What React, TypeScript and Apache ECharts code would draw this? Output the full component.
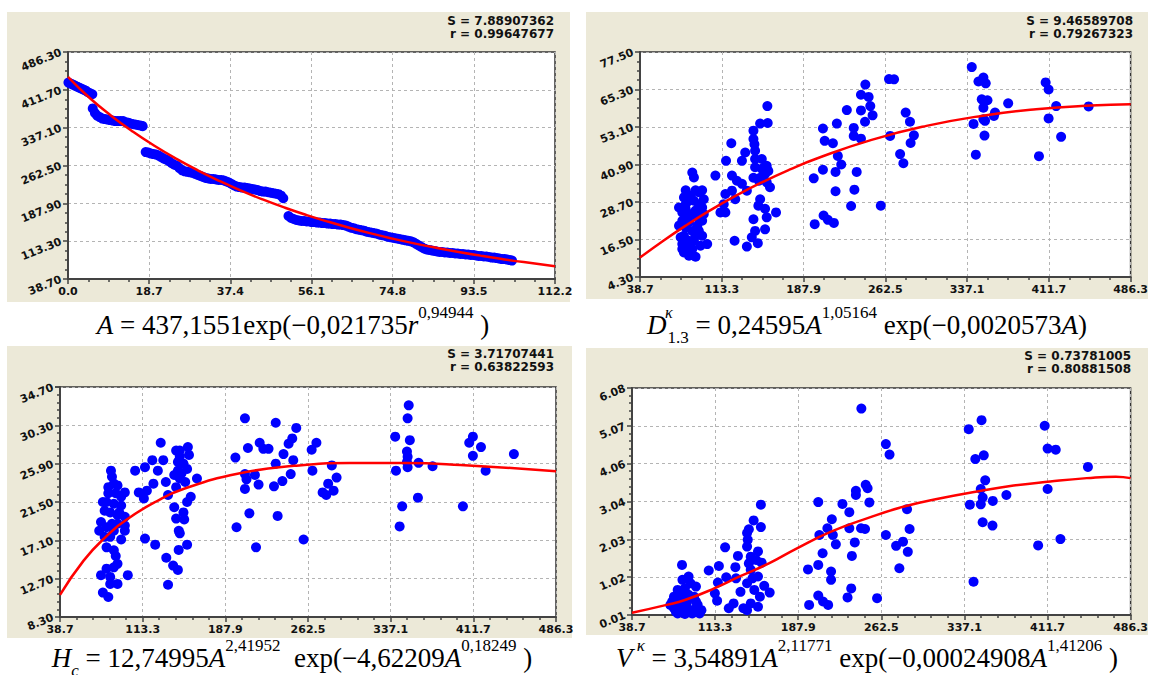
import React, { useEffect, useRef } from "react";
import * as echarts from "echarts";

// ---------- tick labels ----------
const R_TICKS = ["0.0", "18.7", "37.4", "56.1", "74.8", "93.5", "112.2"];
const A_Y_TICKS = ["38.70", "113.30", "187.90", "262.50", "337.10", "411.70", "486.30"];
const A_X_TICKS = ["38.7", "113.3", "187.9", "262.5", "337.1", "411.7", "486.3"];
const D_TICKS = ["4.30", "16.50", "28.70", "40.90", "53.10", "65.30", "77.50"];
const H_TICKS = ["8.30", "12.70", "17.10", "21.50", "25.90", "30.30", "34.70"];
const V_TICKS = ["0.01", "1.02", "2.03", "3.04", "4.06", "5.07", "6.08"];

// ---------- stats ----------
const STATS = [
  ["S = 7.88907362", "r = 0.99647677"],
  ["S = 9.46589708", "r = 0.79267323"],
  ["S = 3.71707441", "r = 0.63822593"],
  ["S = 0.73781005", "r = 0.80881508"],
];

// ---------- panel 1: A vs r ----------
const A_R_POINTS = [
  [0.1, 426], [0.6, 424], [1.1, 422], [1.6, 420], [2.1, 418], [2.6, 416], [3.1, 414], [3.6, 412], [4.1, 410], [4.6, 407], [5.1, 405], [5.6, 403],
  [5.7, 375], [6.2, 366], [6.7, 361], [7.3, 358], [7.9, 355], [8.5, 354], [9.1, 353], [9.7, 352], [10.3, 351], [10.9, 350], [11.5, 350], [12.1, 350],
  [12.7, 350], [13.3, 348], [13.9, 347], [14.5, 345], [15.1, 344], [15.7, 343], [16.3, 342], [16.9, 341], [17.2, 340],
  [17.9, 289], [18.5, 288], [19.1, 286], [19.7, 285], [20.3, 284], [20.9, 282], [21.5, 279], [22.1, 276], [22.7, 274], [23.3, 271], [23.9, 267],
  [24.5, 264], [25.1, 262], [25.7, 257], [26.3, 253], [26.9, 251], [27.5, 250], [28.1, 249], [28.7, 248], [29.3, 246], [29.9, 244], [30.5, 242],
  [31.1, 240], [31.7, 238], [32.3, 237], [32.9, 236], [33.5, 236], [34.1, 235], [34.7, 234], [35.3, 234], [35.9, 233], [36.5, 231], [37.1, 229],
  [37.7, 226], [38.3, 223], [38.9, 221], [39.5, 220], [40.1, 219], [40.7, 219], [41.3, 218], [41.9, 217], [42.5, 216], [43.1, 215], [43.7, 214],
  [44.3, 212], [44.9, 211], [45.5, 211], [46.1, 210], [46.7, 209], [47.3, 208], [47.9, 207], [48.5, 206], [49.1, 203], [49.6, 198],
  [50.8, 163], [51.4, 159], [52.0, 157], [52.6, 155], [53.2, 154], [53.8, 153], [54.4, 153], [55.0, 152], [55.6, 152], [56.2, 151], [56.8, 151],
  [57.4, 150], [58.0, 150], [58.6, 149], [59.2, 149], [59.8, 148], [60.4, 148], [61.0, 147], [61.6, 147], [62.2, 146], [62.8, 146], [63.4, 145],
  [64.0, 144], [64.6, 142], [65.2, 140], [65.8, 139], [66.4, 137], [67.0, 136], [67.6, 135], [68.2, 134], [68.8, 132], [69.4, 131], [70.0, 130],
  [70.6, 129], [71.2, 128], [71.8, 126], [72.4, 125], [73.0, 124], [73.6, 122], [74.2, 121], [74.8, 120], [75.4, 119], [76.0, 118], [76.6, 117],
  [77.2, 116], [77.8, 115], [78.4, 114], [79.0, 113], [79.6, 111], [80.2, 108], [80.8, 105], [81.4, 102], [82.0, 99], [82.6, 97], [83.2, 96],
  [83.8, 95], [84.4, 94], [85.0, 93], [85.6, 92], [86.2, 92], [86.8, 91], [87.4, 91], [88.0, 90], [88.6, 90], [89.2, 89], [89.8, 89], [90.4, 88],
  [91.0, 88], [91.6, 87], [92.2, 87], [92.8, 86], [93.4, 86], [94.0, 85], [94.6, 84], [95.2, 84], [95.8, 83], [96.4, 83], [97.0, 82], [97.6, 81],
  [98.2, 81], [98.8, 80], [99.4, 79], [100.0, 78], [100.6, 78], [101.2, 77], [101.8, 76], [102.3, 75],
];
const A_R_CURVE = [
  [0, 437.2], [5, 395.5], [10, 360.3], [15, 329.0], [20, 300.9], [25, 275.5], [30, 252.5], [35, 231.6], [40, 212.5], [45, 195.1], [50, 179.2],
  [55, 164.7], [60, 151.5], [65, 139.3], [70, 128.1], [75, 117.9], [80, 108.5], [85, 99.9], [90, 92.0], [95, 84.8], [100, 78.1], [105, 72.0], [112.2, 64.0],
];

// ---------- panel 2: D vs A ----------
const D_POINTS = [
  [86.4, 38.3], [87.9, 36.7], [107.5, 37.3], [89.4, 32.5], [95.4, 32.5], [80.4, 28.0], [83.4, 29.1], [87.9, 29.1], [92.4, 28.0], [95.4, 26.9],
  [77.3, 25.3], [84.9, 24.7], [90.9, 23.7], [95.4, 22.6], [74.3, 21.0], [80.4, 20.4], [86.4, 19.3], [92.4, 19.3], [78.8, 17.7], [83.4, 16.1],
  [87.9, 16.1], [77.3, 15.0], [100.0, 15.0], [78.8, 12.3], [83.4, 11.2], [89.4, 10.9], [77.3, 22.6], [81.9, 23.7], [84.9, 30.8], [92.4, 31.9],
  [80.4, 26.4], [89.4, 25.9], [83.4, 22.1], [89.4, 17.7], [93.9, 14.5], [86.4, 13.4], [77.3, 13.4], [74.3, 26.9], [96.9, 29.6], [80.4, 32.5],
  [95.4, 17.7], [84.9, 15.0], [81.9, 13.9], [75.8, 17.2], [90.9, 20.9], [78.8, 30.2], [96.9, 24.8],
  [122.0, 47.8], [117.2, 42.1], [122.6, 37.3], [127.1, 35.6], [116.6, 31.3], [122.6, 32.4], [125.6, 29.6], [115.1, 28.0], [112.1, 25.3],
  [116.6, 25.3], [131.7, 34.6], [136.2, 32.4], [131.7, 42.1], [134.7, 44.8], [142.2, 51.9], [148.3, 54.2], [155.2, 54.4], [154.9, 59.9],
  [142.2, 49.2], [143.1, 47.5], [143.7, 45.4], [143.7, 42.7], [149.8, 42.7], [154.3, 40.5], [142.2, 36.6], [148.3, 36.6], [152.8, 37.8],
  [155.8, 38.8], [147.2, 35.6], [157.3, 33.5], [148.3, 29.6], [146.7, 27.5], [152.8, 26.5], [154.3, 23.7], [162.8, 25.3], [142.2, 23.1],
  [143.7, 19.3], [152.8, 19.8], [140.7, 17.2], [146.2, 15.3], [125.0, 16.1], [136.2, 14.2], [149.8, 39.5], [143.7, 40.0], [154.3, 35.1],
  [205.6, 52.6], [207.2, 48.6], [214.7, 47.8], [218.3, 54.2], [227.4, 58.6], [233.7, 52.8], [233.7, 50.2], [240.3, 49.3], [240.3, 58.5],
  [240.3, 63.6], [244.3, 66.9], [247.3, 62.9], [248.8, 59.9], [250.9, 56.9], [244.0, 54.8], [219.2, 43.7], [222.3, 40.9], [217.1, 38.5],
  [205.6, 39.2], [197.2, 36.4], [236.4, 38.5], [217.1, 32.2], [234.3, 32.7], [231.3, 27.4], [258.4, 27.5], [198.1, 21.5], [206.2, 24.3],
  [210.1, 22.9], [215.6, 21.9], [265.9, 68.7], [270.5, 68.6], [266.9, 50.2], [281.1, 57.8], [285.0, 54.8], [288.6, 50.4], [285.6, 47.9],
  [276.0, 44.3], [279.0, 41.3],
  [341.4, 72.6], [352.0, 69.2], [347.5, 67.9], [354.1, 67.3], [350.5, 62.1], [355.7, 61.8], [352.0, 59.4], [362.6, 57.8], [361.6, 56.7],
  [352.0, 55.6], [353.5, 55.1], [343.0, 54.1], [353.0, 50.3], [345.1, 44.1], [374.6, 60.8],
  [408.8, 67.6], [411.5, 65.3], [418.4, 59.9], [411.5, 55.9], [422.9, 49.9], [402.7, 43.6], [448.0, 59.8],
];
const D_CURVE = [
  [38.7, 10.62], [60, 16.12], [80, 20.93], [100, 25.39], [125, 30.5], [150, 35.1], [175, 39.21], [200, 42.86], [250, 48.91], [300, 53.46],
  [350, 56.7], [400, 58.86], [450, 60.11], [486.3, 60.54],
];

// ---------- panel 3: H vs A ----------
const H_POINTS = [
  [84.7, 25.1], [85.6, 24.4], [87.3, 23.6], [90.6, 23.4], [82.3, 22.5], [97.2, 22.6], [80.7, 21.5], [87.3, 21.3], [93.9, 21.1], [79.0, 20.5],
  [84.0, 20.3], [90.6, 20.0], [97.2, 19.8], [75.7, 19.2], [74.1, 18.2], [80.7, 18.6], [87.3, 18.2], [97.2, 18.2], [84.0, 17.5], [93.9, 17.2],
  [80.7, 16.3], [87.3, 15.95], [89.0, 15.3], [90.6, 14.4], [80.7, 13.85], [87.3, 14.0], [75.7, 13.1], [84.0, 12.9], [99.9, 13.1], [90.6, 12.1],
  [84.0, 12.1], [77.4, 11.1], [82.3, 10.6], [90.6, 19.0], [93.9, 22.1], [82.3, 23.2], [77.4, 21.5], [97.2, 18.8], [79.0, 17.5], [85.6, 19.0],
  [92.2, 20.3], [89.0, 22.5],
  [106.5, 25.1], [109.8, 22.6], [114.4, 21.9], [117.1, 22.8], [115.4, 25.5], [122.0, 26.3], [127.0, 25.1], [129.6, 28.3], [131.9, 26.3],
  [134.2, 23.8], [123.0, 23.6], [136.2, 22.3], [115.4, 17.3], [124.6, 16.6], [134.6, 15.1], [140.8, 14.2], [145.1, 13.7], [136.2, 12.0],
  [143.5, 27.4], [146.8, 27.4], [154.1, 27.8], [155.1, 26.9], [145.1, 26.1], [150.1, 25.9], [145.1, 25.1], [153.4, 25.3], [141.8, 24.6],
  [146.8, 24.2], [151.7, 23.8], [162.3, 24.2], [141.8, 20.9], [150.1, 20.3], [156.7, 22.1], [153.4, 21.5], [143.5, 19.6], [150.8, 19.5],
  [145.9, 18.2], [146.8, 17.9], [153.4, 16.6], [145.8, 16.0], [146.8, 26.7], [143.5, 23.2], [148.4, 24.8],
  [205.6, 31.1], [197.0, 26.6], [208.3, 27.7], [218.9, 28.3], [222.2, 27.6], [226.9, 27.6], [233.4, 30.6], [251.9, 30.0], [248.3, 28.8],
  [245.0, 28.2], [240.4, 27.0], [233.4, 25.9], [249.2, 26.3], [205.6, 24.7], [207.0, 24.1], [214.6, 24.6], [217.9, 23.5], [205.6, 23.0],
  [231.8, 23.3], [239.4, 23.9], [246.9, 24.7], [209.6, 20.2], [235.1, 19.9], [198.0, 18.6], [215.6, 16.3], [258.5, 17.2], [265.8, 27.5],
  [270.1, 28.3], [266.5, 25.1], [284.0, 25.7], [288.3, 24.3], [280.7, 23.6], [285.6, 22.8], [275.7, 22.6], [279.0, 22.3],
  [341.2, 29.0], [353.4, 32.6], [352.4, 31.1], [354.4, 28.6], [351.8, 27.3], [352.4, 26.7], [351.8, 26.1], [352.4, 25.5], [341.9, 25.1],
  [362.3, 26.0], [374.9, 25.6], [347.5, 21.0], [345.2, 18.7], [361.7, 22.0],
  [411.3, 29.0], [408.0, 28.3], [418.6, 27.8], [411.3, 26.8], [422.8, 25.1], [402.3, 21.0], [448.3, 27.0],
];
const H_CURVE = [
  [38.7, 10.83], [60, 14.77], [80, 17.5], [100, 19.58], [125, 21.53], [150, 22.99], [200, 24.77], [250, 25.65], [300, 25.97], [350, 25.97],
  [400, 25.75], [486.3, 25.03],
];

// ---------- panel 4: V vs A ----------
const V_POINTS = [
  [83.6, 1.35], [84.0, 0.95], [89.5, 1.04], [79.7, 0.68], [86.2, 0.72], [96.1, 0.77], [76.4, 0.5], [83.0, 0.5], [89.5, 0.55], [94.4, 0.5],
  [74.8, 0.37], [81.3, 0.32], [87.9, 0.34], [96.1, 0.37], [76.4, 0.19], [83.0, 0.14], [89.5, 0.16], [96.1, 0.19], [101.0, 0.14], [79.7, 0.05],
  [86.2, 0.04], [92.8, 0.05], [73.1, 0.28], [91.2, 0.86], [97.7, 0.28], [84.6, 0.23], [78.1, 0.1], [99.4, 0.05],
  [107.6, 1.2], [116.7, 1.32], [122.3, 1.82], [115.8, 0.88], [123.3, 1.02], [131.5, 1.29], [133.8, 1.59], [132.1, 0.99], [113.1, 0.59],
  [115.1, 0.39], [125.6, 0.19], [129.9, 0.32], [136.1, 0.63], [142.0, 2.2], [142.6, 2.02], [143.6, 2.3], [147.9, 2.54], [154.4, 2.96],
  [154.4, 2.36], [142.0, 1.84], [145.3, 1.57], [150.2, 1.48], [151.8, 1.71], [155.1, 1.41], [143.6, 1.39], [145.3, 1.22], [151.8, 1.04],
  [142.0, 0.86], [148.5, 0.68], [153.5, 0.5], [145.3, 0.32], [151.8, 0.23], [142.0, 0.14], [157.4, 0.79], [162.3, 0.61], [146.9, 0.99],
  [138.7, 0.19],
  [196.7, 1.23], [197.7, 0.28], [205.9, 3.03], [206.9, 2.15], [209.8, 1.66], [205.9, 1.35], [205.9, 0.53], [210.2, 0.37], [214.8, 0.28],
  [214.1, 2.33], [218.1, 2.57], [219.0, 2.15], [221.7, 1.9], [217.4, 1.17], [217.4, 0.95], [227.6, 2.98], [233.8, 2.76], [233.8, 2.33],
  [238.7, 1.95], [236.1, 1.59], [235.5, 0.72], [232.2, 0.48], [244.6, 5.53], [239.7, 3.33], [239.7, 3.22], [248.5, 3.49], [250.2, 3.4],
  [251.8, 3.02], [244.3, 2.33], [247.9, 2.31], [258.7, 0.46], [266.6, 4.58], [269.9, 4.3], [266.6, 2.15], [275.8, 1.86], [282.0, 1.97],
  [278.7, 1.26], [286.3, 1.7], [285.6, 2.84], [287.9, 2.31],
  [341.0, 4.98], [352.5, 5.22], [346.9, 4.18], [354.5, 4.28], [355.8, 3.61], [351.8, 3.38], [353.5, 3.15], [342.0, 2.96], [351.8, 2.97],
  [362.6, 3.06], [353.5, 2.49], [362.3, 2.4], [374.8, 3.22], [345.3, 0.9],
  [409.2, 5.07], [411.8, 4.46], [419.1, 4.43], [411.8, 3.38], [403.3, 1.87], [423.3, 2.04], [448.0, 3.97],
];
const V_CURVE = [
  [38.7, 0.07], [69.8, 0.28], [86.2, 0.41], [112.5, 0.72], [135.4, 1.04], [161.6, 1.39], [187.2, 1.8], [217.4, 2.24], [250.2, 2.6],
  [283, 2.91], [315.8, 3.13], [348.5, 3.31], [381.3, 3.47], [414.1, 3.58], [446.9, 3.67], [473, 3.71], [486.3, 3.67],
];

// ---------- layout ----------
const PANELS = [
  { grid: { left: 68, top: 52, width: 487, height: 227 }, bg: [7, 12, 563, 290], xOff: 0, xStep: 18.7, xTicks: R_TICKS, yOff: 38.7, yStep: 74.6, yTicks: A_Y_TICKS, minor: 4, pts: A_R_POINTS, curve: A_R_CURVE, stat: [554, 14] },
  { grid: { left: 640, top: 52, width: 494, height: 225 }, bg: [586, 12, 562, 287], xOff: 38.7, xStep: 74.6, xTicks: A_X_TICKS, yOff: 4.3, yStep: 12.2, yTicks: D_TICKS, minor: 4, pts: D_POINTS, curve: D_CURVE, stat: [1133, 14] },
  { grid: { left: 60, top: 387, width: 496, height: 230 }, bg: [7, 346, 565, 292], xOff: 38.7, xStep: 74.6, xTicks: A_X_TICKS, yOff: 8.3, yStep: 4.4, yTicks: H_TICKS, minor: 5, pts: H_POINTS, curve: H_CURVE, stat: [554, 347] },
  { grid: { left: 632, top: 388, width: 500, height: 227 }, bg: [586, 348, 562, 287], xOff: 38.7, xStep: 74.6, xTicks: A_X_TICKS, yOff: 0.01, yStep: 6.07 / 6, yTicks: V_TICKS, minor: 5, pts: V_POINTS, curve: V_CURVE, stat: [1131, 349] },
];

const AXIS_COLOR = "#434343";
const LABEL_FONT = "DejaVu Sans";

function makeAxis(gi: number, step: number, ticks: string[], minor: number, isY: boolean) {
  return {
    type: "value",
    gridIndex: gi,
    min: 0,
    max: step * 6,
    interval: step,
    axisLine: { show: true, onZero: false, lineStyle: { color: AXIS_COLOR, width: 2 } },
    axisTick: { show: true, length: 5, lineStyle: { color: AXIS_COLOR, width: 1.5 } },
    minorTick: { show: true, splitNumber: minor, length: 3, lineStyle: { color: AXIS_COLOR, width: 1.5 } },
    splitLine: { show: true, lineStyle: { color: "#b4b4b4", type: [3, 3], width: 1 } },
    axisLabel: {
      showMinLabel: true,
      showMaxLabel: true,
      hideOverlap: false,
      formatter: (v: number) => ticks[Math.round(v / step)] ?? "",
      rotate: isY ? 22 : 0,
      margin: 7,
      color: "#111",
      fontFamily: LABEL_FONT,
      fontWeight: "bold",
      fontSize: 11,
    },
  };
}

const SERIF = "Liberation Serif";
const RICH = {
  m: { fontSize: 27, fontFamily: SERIF, lineHeight: 42, color: "#000" },
  i: { fontSize: 27, fontFamily: SERIF, fontStyle: "italic", lineHeight: 42, color: "#000" },
  p: { fontSize: 17, fontFamily: SERIF, lineHeight: 24, verticalAlign: "top", color: "#000" },
  pi: { fontSize: 17, fontFamily: SERIF, fontStyle: "italic", lineHeight: 24, verticalAlign: "top", color: "#000" },
  k: { fontSize: 16, fontFamily: SERIF, fontStyle: "italic", lineHeight: 20, verticalAlign: "top", color: "#000", width: 1, align: "left" },
  b: { fontSize: 17, fontFamily: SERIF, lineHeight: 20, verticalAlign: "bottom", color: "#000" },
  bi: { fontSize: 17, fontFamily: SERIF, fontStyle: "italic", lineHeight: 22, verticalAlign: "bottom", color: "#000" },
};
const S = "\u00A0";
const FORMULAS = [
  { x: 293, y: 325, text: `{i|A}{m|${S}=${S}437,1551exp(−0,021735}{i|r}{p|0,94944}{m|${S})}` },
  { x: 867, y: 325, text: `{i|D}{k|${S}κ}{b|1.3}{m|${S}=${S}0,24595}{i|A}{p|1,05164}{m|${S}exp(−0,0020573}{i|A}{m|)}` },
  { x: 292, y: 658, text: `{i|H}{bi|c}{m|${S}=${S}12,74995}{i|A}{p|2,41952}{m|${S}${S}exp(−4,62209}{i|A}{p|0,18249}{m|${S})}` },
  { x: 867, y: 658, text: `{i|V}{pi|${S}κ}{m|${S}=${S}3,54891}{i|A}{p|2,11771}{m|${S}exp(−0,00024908}{i|A}{p|1,41206}{m|${S})}` },
];

function buildOption() {
  const grids: any[] = [];
  const xAxes: any[] = [];
  const yAxes: any[] = [];
  const series: any[] = [];
  const graphic: any[] = [];
  PANELS.forEach((p, gi) => {
    grids.push({ ...p.grid, show: true, backgroundColor: "#ffffff", borderColor: "#333333", borderWidth: 1.5, containLabel: false });
    xAxes.push(makeAxis(gi, p.xStep, p.xTicks, p.minor, false));
    yAxes.push(makeAxis(gi, p.yStep, p.yTicks, p.minor, true));
    series.push({
      type: "scatter",
      xAxisIndex: gi,
      yAxisIndex: gi,
      symbol: "circle",
      symbolSize: 10,
      itemStyle: { color: "#0000ff", opacity: 1 },
      data: p.pts.map((d) => [d[0] - p.xOff, d[1] - p.yOff]),
      z: 3,
    });
    series.push({
      type: "line",
      xAxisIndex: gi,
      yAxisIndex: gi,
      symbol: "none",
      smooth: true,
      lineStyle: { color: "#ff0000", width: 2.5 },
      data: p.curve.map((d) => [d[0] - p.xOff, d[1] - p.yOff]),
      z: 4,
    });
    graphic.push({
      type: "rect",
      z: -10,
      shape: { x: p.bg[0], y: p.bg[1], width: p.bg[2], height: p.bg[3] },
      style: { fill: "#ece9d8" },
    });
    graphic.push({
      type: "text",
      z: 100,
      x: p.stat[0],
      y: p.stat[1],
      style: {
        text: STATS[gi].join("\n"),
        align: "right",
        verticalAlign: "top",
        font: `bold 12px "${LABEL_FONT}"`,
        lineHeight: 13,
        fill: "#111",
      },
    });
  });
  FORMULAS.forEach((f) => {
    graphic.push({
      type: "text",
      z: 100,
      x: f.x,
      y: f.y,
      style: { text: f.text, rich: RICH, align: "center", verticalAlign: "middle", fill: "#000" },
    });
  });
  return {
    animation: false,
    backgroundColor: "#ffffff",
    grid: grids,
    xAxis: xAxes,
    yAxis: yAxes,
    series,
    graphic,
  };
}

export default function App() {
  const ref = useRef<HTMLDivElement>(null);
  useEffect(() => {
    const chart = echarts.init(ref.current!, null, { renderer: "svg" });
    chart.setOption(buildOption() as any);
    return () => chart.dispose();
  }, []);
  return (
    <div
      ref={ref}
      style={{ position: "fixed", left: 0, top: 0, width: 1151, height: 675, background: "#fff" }}
    />
  );
}
